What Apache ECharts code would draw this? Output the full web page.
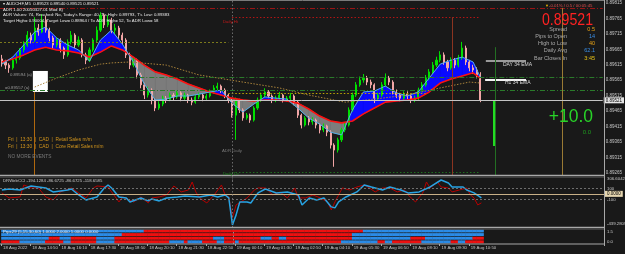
<!DOCTYPE html>
<html><head><meta charset="utf-8">
<script src="https://cdn.jsdelivr.net/npm/echarts@6/dist/echarts.min.js"></script>
<style>html,body{margin:0;padding:0;background:#191919;}#c{width:625px;height:254px;}</style>
</head><body><div id="c"></div>
<script>
const N = 165;
const timeLabels = ['18 Aug 2022','18 Aug 14:50','18 Aug 16:10','18 Aug 17:30','18 Aug 18:50','18 Aug 20:10','18 Aug 21:30','18 Aug 22:50','19 Aug 00:10','19 Aug 01:30','19 Aug 02:50','19 Aug 04:10','19 Aug 05:30','19 Aug 06:50','19 Aug 08:10','19 Aug 09:30','19 Aug 10:50'];
const priceTicks = [0.89265,0.89315,0.89365,0.89415,0.89465,0.89515,0.89565,0.89615,0.89665,0.89715,0.89765,0.89815];
const opens = [0.89655,0.89645,0.89635,0.89626,0.89651,0.89658,0.89684,0.89700,0.89732,0.89716,
0.89755,0.89742,0.89781,0.89748,0.89723,0.89700,0.89716,0.89690,0.89668,0.89710,
0.89732,0.89700,0.89716,0.89668,0.89651,0.89684,0.89716,0.89748,0.89797,0.89765,
0.89781,0.89748,0.89755,0.89732,0.89716,0.89668,0.89635,0.89651,0.89603,0.89571,
0.89538,0.89554,0.89522,0.89496,0.89509,0.89528,0.89522,0.89538,0.89532,0.89545,
0.89528,0.89538,0.89522,0.89515,0.89532,0.89538,0.89528,0.89535,0.89548,0.89561,
0.89567,0.89554,0.89538,0.89522,0.89473,0.89522,0.89490,0.89464,0.89473,0.89457,
0.89496,0.89522,0.89538,0.89548,0.89535,0.89522,0.89528,0.89538,0.89522,0.89528,
0.89535,0.89515,0.89473,0.89441,0.89464,0.89451,0.89457,0.89441,0.89425,0.89438,
0.89418,0.89376,0.89360,0.89393,0.89425,0.89441,0.89490,0.89538,0.89571,0.89587,
0.89593,0.89580,0.89571,0.89528,0.89538,0.89571,0.89593,0.89580,0.89548,0.89538,
0.89528,0.89541,0.89535,0.89522,0.89528,0.89554,0.89571,0.89593,0.89613,0.89635,
0.89651,0.89668,0.89645,0.89626,0.89651,0.89635,0.89658,0.89690,0.89645,0.89626,
0.89619,0.89603];
const closes = [0.89645,0.89635,0.89626,0.89651,0.89658,0.89684,0.89700,0.89732,0.89716,0.89755,
0.89742,0.89781,0.89748,0.89723,0.89700,0.89716,0.89690,0.89668,0.89710,0.89732,
0.89700,0.89716,0.89668,0.89651,0.89684,0.89716,0.89748,0.89797,0.89765,0.89781,
0.89748,0.89755,0.89732,0.89716,0.89668,0.89635,0.89651,0.89603,0.89571,0.89538,
0.89554,0.89522,0.89496,0.89509,0.89528,0.89522,0.89538,0.89532,0.89545,0.89528,
0.89538,0.89522,0.89515,0.89532,0.89538,0.89528,0.89535,0.89548,0.89561,0.89567,
0.89554,0.89538,0.89522,0.89473,0.89522,0.89490,0.89464,0.89473,0.89457,0.89496,
0.89522,0.89538,0.89548,0.89535,0.89522,0.89528,0.89538,0.89522,0.89528,0.89535,
0.89515,0.89473,0.89441,0.89464,0.89451,0.89457,0.89441,0.89425,0.89438,0.89418,
0.89376,0.89360,0.89393,0.89425,0.89441,0.89490,0.89538,0.89571,0.89587,0.89593,
0.89580,0.89571,0.89528,0.89538,0.89571,0.89593,0.89580,0.89548,0.89538,0.89528,
0.89541,0.89535,0.89522,0.89528,0.89554,0.89571,0.89593,0.89613,0.89635,0.89651,
0.89668,0.89645,0.89626,0.89651,0.89635,0.89658,0.89690,0.89645,0.89626,0.89619,
0.89603,0.89521];
const lows = [0.89630,0.89622,0.89610,0.89620,0.89640,0.89652,0.89676,0.89694,0.89705,0.89710,
0.89730,0.89738,0.89740,0.89712,0.89688,0.89692,0.89676,0.89655,0.89662,0.89702,
0.89690,0.89694,0.89660,0.89638,0.89645,0.89678,0.89710,0.89742,0.89755,0.89758,
0.89738,0.89736,0.89720,0.89702,0.89658,0.89622,0.89628,0.89592,0.89560,0.89525,
0.89530,0.89508,0.89486,0.89490,0.89502,0.89512,0.89518,0.89522,0.89526,0.89518,
0.89520,0.89512,0.89505,0.89510,0.89525,0.89518,0.89522,0.89530,0.89542,0.89554,
0.89545,0.89528,0.89512,0.89465,0.89393,0.89480,0.89455,0.89458,0.89448,0.89452,
0.89490,0.89516,0.89530,0.89528,0.89512,0.89515,0.89522,0.89514,0.89516,0.89520,
0.89505,0.89464,0.89430,0.89436,0.89440,0.89442,0.89430,0.89414,0.89418,0.89405,
0.89365,0.89306,0.89352,0.89386,0.89418,0.89436,0.89484,0.89532,0.89565,0.89578,
0.89570,0.89560,0.89512,0.89520,0.89532,0.89565,0.89570,0.89540,0.89528,0.89518,
0.89522,0.89525,0.89512,0.89515,0.89522,0.89548,0.89565,0.89586,0.89606,0.89628,
0.89644,0.89636,0.89615,0.89620,0.89625,0.89628,0.89652,0.89635,0.89615,0.89606,
0.89592,0.89515];
const highs = [0.89668,0.89652,0.89641,0.89660,0.89672,0.89690,0.89712,0.89745,0.89740,0.89790,
0.89768,0.89800,0.89795,0.89756,0.89730,0.89725,0.89722,0.89695,0.89718,0.89745,
0.89738,0.89728,0.89722,0.89675,0.89692,0.89722,0.89760,0.89806,0.89802,0.89797,
0.89788,0.89768,0.89762,0.89740,0.89722,0.89675,0.89660,0.89656,0.89610,0.89578,
0.89565,0.89560,0.89528,0.89518,0.89536,0.89535,0.89546,0.89545,0.89552,0.89550,
0.89546,0.89542,0.89530,0.89540,0.89546,0.89544,0.89542,0.89556,0.89570,0.89578,
0.89572,0.89560,0.89542,0.89528,0.89530,0.89526,0.89495,0.89480,0.89478,0.89502,
0.89530,0.89546,0.89560,0.89554,0.89540,0.89536,0.89548,0.89542,0.89535,0.89545,
0.89540,0.89520,0.89478,0.89470,0.89470,0.89466,0.89462,0.89446,0.89446,0.89442,
0.89424,0.89382,0.89400,0.89432,0.89450,0.89498,0.89546,0.89580,0.89598,0.89606,
0.89600,0.89588,0.89576,0.89546,0.89580,0.89608,0.89600,0.89586,0.89556,0.89545,
0.89550,0.89550,0.89542,0.89536,0.89562,0.89580,0.89603,0.89622,0.89645,0.89662,
0.89680,0.89676,0.89652,0.89660,0.89658,0.89668,0.89710,0.89698,0.89652,0.89636,
0.89628,0.89612];
const emaBars = [0,3,6,9,12,15,18,21,24,27,30,33,36,39,42,45,48,51,54,57,60,63,66,69,72,75,78,81,84,87,90,93,96,99,102,105,108,111,114,117,120,123,126,129,131];
const emaSlow = [0.89645,0.89655,0.89668,0.89684,0.89693,0.89684,0.89681,0.89674,0.89661,0.89677,0.89697,0.89684,0.89661,0.89635,0.89613,0.89603,0.89590,0.89574,0.89561,0.89548,0.89538,0.89528,0.89522,0.89519,0.89522,0.89522,0.89519,0.89512,0.89493,0.89470,0.89454,0.89448,0.89454,0.89477,0.89496,0.89515,0.89519,0.89522,0.89528,0.89548,0.89577,0.89590,0.89600,0.89610,0.89593];
const emaFast = [0.89638,0.89661,0.89700,0.89742,0.89758,0.89723,0.89700,0.89684,0.89648,0.89716,0.89748,0.89703,0.89645,0.89574,0.89522,0.89525,0.89535,0.89535,0.89541,0.89548,0.89554,0.89512,0.89483,0.89509,0.89532,0.89528,0.89525,0.89496,0.89464,0.89444,0.89418,0.89409,0.89490,0.89548,0.89551,0.89567,0.89545,0.89535,0.89548,0.89593,0.89638,0.89651,0.89661,0.89645,0.89596];
const maBars = [9,15,21,27,30,35,45,54,66,76,84,94,102,111,120,128,131];
const maLong = [0.89564,0.89593,0.89619,0.89638,0.89642,0.89645,0.89635,0.89603,0.89580,0.89561,0.89538,0.89515,0.89525,0.89538,0.89561,0.89580,0.89577];
const cciFast = [[0,71],[2,89],[5,71],[8,143],[10,125],[12,107],[14,35],[16,53],[18,71],[19,89],[21,-20],[23,-110],[26,-56],[28,107],[29,162],[30,107],[32,-56],[34,-74],[35,-147],[38,-74],[40,-128],[41,-92],[43,-128],[45,-74],[48,-56],[50,-38],[54,-56],[57,-20],[59,-56],[61,-20],[62,-74],[63,-564],[64,-382],[65,-147],[67,-147],[68,-165],[70,17],[72,89],[75,17],[78,35],[81,-20],[82,-201],[84,-74],[86,-110],[88,-74],[90,-237],[91,-255],[92,-147],[94,-56],[97,35],[99,162],[101,125],[104,71],[106,125],[109,71],[111,17],[114,35],[117,125],[120,252],[122,198],[123,125],[126,125],[127,71],[129,17],[131,-74]];
const cciSlow = [[0,17],[2,-74],[5,-56],[6,162],[8,107],[10,107],[12,-56],[14,-110],[16,35],[19,107],[21,17],[23,-74],[25,107],[26,143],[29,125],[30,35],[32,-147],[33,-56],[36,-147],[38,-56],[40,-165],[41,-74],[43,-56],[45,-20],[47,143],[49,35],[51,71],[52,216],[53,35],[54,-74],[56,-165],[58,-20],[60,162],[61,-20],[62,-56],[63,-437],[64,-201],[67,-74],[69,71],[70,107],[72,107],[74,-20],[76,35],[78,-74],[80,107],[81,-74],[83,-74],[85,-20],[87,-74],[89,-147],[90,-292],[91,-147],[93,107],[95,71],[97,125],[99,162],[100,125],[102,35],[104,107],[106,107],[108,35],[110,71],[111,-20],[113,-147],[115,17],[116,216],[117,107],[119,216],[120,125],[122,107],[123,35],[125,71],[127,107],[128,-20],[129,-74],[130,-201],[131,-165]];
const row1Runs = [[0,38,1],[39,98,0],[99,131,1]];
const row2Runs = [[0,32,1],[33,95,0],[96,131,1]];
const row3Runs = [[0,12,1],[13,15,0],[16,18,1],[19,25,0],[26,30,1],[31,57,0],[58,60,1],[61,70,0],[71,73,1],[74,75,0],[76,77,1],[78,95,0],[96,111,1],[112,115,0],[116,128,1],[129,131,0]];
const row4Runs = [[0,4,0],[5,11,1],[12,16,0],[17,18,1],[19,25,0],[26,30,1],[31,45,0],[46,49,1],[50,50,0],[51,54,1],[55,58,0],[59,60,1],[61,63,0],[64,64,1],[65,92,0],[93,102,1],[103,104,0],[105,106,1],[107,114,0],[115,122,1],[123,124,0],[125,126,1],[127,131,0]];
const bid = 0.89521;
const levelPrices = [0.89820, 0.89790, 0.89710, 0.89596, 0.89554, 0.89545, 0.89289];
const htfEma = [0.89648, 0.89588];
const cciLevels = [100, -100, 0];

const FONT = 'Liberation Sans';
const cats = Array.from({length: N}, (_, i) => String(i));
const labelAt = i => (i % 8 === 0 && i / 8 < timeLabels.length) ? timeLabels[i / 8] : '';
const ohlc = opens.map((o, i) => [o, closes[i], lows[i], highs[i]]);
const fillSegs = emaBars.slice(0, -1).map((k, i) => [k, emaBars[i + 1], emaFast[i], emaFast[i + 1], emaSlow[i], emaSlow[i + 1]]);
const cells = [];
[row1Runs, row2Runs, row3Runs, row4Runs].forEach((runs, r) => runs.forEach(([a, b, s]) => { for (let k = a; k <= b; k++) cells.push([k, r, s]); }));

const yTop = 0.898456, yBot = 0.892599, panelBottom = 0.89279;
const X0 = -0.5, X1 = N - 0.5;
const UP = '#0a0aff', DOWN = '#7c7c7c';
function hl(price, a, b, color, type, width) {
  return [{coord: [a, price], lineStyle: {color, type, width: width || 1}}, {coord: [b, price]}];
}
function vl(x, p1, p2, color, type, width) {
  return [{coord: [x, p1], lineStyle: {color, type, width: width || 1}}, {coord: [x, p2]}];
}
const dashDot = [5, 2, 1, 2];
const daySep = {xAxis: 63, lineStyle: {color: '#6a6a6a', type: [1.5, 2], width: 1}};
const mainMarks = [
  hl(levelPrices[0], X0, X1, '#9a1414', dashDot),
  hl(levelPrices[1], 63, 131, '#b41414', [1.5, 2]),
  hl(levelPrices[2], X0, 62, '#7c7a1c', [2, 2]),
  hl(levelPrices[3], 13, X1, '#2a7a2a', dashDot),
  hl(levelPrices[4], X0, X1, '#2a7a2a', dashDot),
  hl(levelPrices[5], 62, 116, '#c0a800', [1.5, 2]),
  hl(levelPrices[6], 63, 131, '#1f6f1f', [1.5, 2]),
  hl(htfEma[0], 132.5, 143.5, '#9a9a9a', 'solid', 2),
  hl(htfEma[1], 132.3, 143.5, '#f2f2f2', 'solid', 2),
  daySep,
  vl(8.8, 0.89548, panelBottom, '#b0680e', 'solid'),
  vl(123.25, levelPrices[1], panelBottom, '#8b3420', 'solid'),
  vl(135.0, 0.89693, panelBottom, '#236f23', 'solid'),
  vl(153.3, levelPrices[0], panelBottom, '#9a7a34', 'solid'),
  vl(134.7, bid, 0.89373, '#22dd22', 'solid', 2),
  [{coord: [X0, bid], lineStyle: {color: '#c4c4c4', type: 'solid', width: 1},
    label: {show: true, position: 'end', distance: 1, formatter: bid.toFixed(5), backgroundColor: '#e6e6e6', color: '#000', fontSize: 4.5, fontFamily: FONT, padding: [1, 2, 0, 2]}},
   {coord: [X1, bid]}]
];
const cciMarks = [
  hl(cciLevels[0], X0, X1, '#6e6e6e', [2, 2]),
  hl(cciLevels[1], X0, X1, '#6e6e6e', [2, 2]),
  [{coord: [X0, cciLevels[2]], lineStyle: {color: '#c8b088', type: 'solid', width: 1},
    label: {show: true, position: 'end', distance: 1, formatter: '0.0000', backgroundColor: '#e6d6b0', color: '#000', fontSize: 4.5, fontFamily: FONT, padding: [1, 2, 0, 2]}},
   {coord: [X1, cciLevels[2]]}],
  daySep
];

function txt(x, y, s, fill, size, align, extra) {
  return Object.assign({type: 'text', x, y, z: 100, silent: true,
    style: {text: s, fill, fontSize: size, fontFamily: FONT, align: align || 'left', verticalAlign: 'middle'}}, extra || {});
}
function ln(x1, y1, x2, y2, stroke, w) {
  return {type: 'line', z: 99, silent: true, shape: {x1, y1, x2, y2}, style: {stroke, lineWidth: w || 1}};
}
const graphics = [
  ln(0, 0.5, 605, 0.5, '#7a7a7a'),
  ln(0, 175.5, 605, 175.5, '#a8a8a8', 1.5),
  ln(0, 177.2, 605, 177.2, '#505050'),
  ln(0, 227.5, 605, 227.5, '#a8a8a8', 1.5),
  ln(0, 229.2, 605, 229.2, '#505050'),
  ln(0, 244, 605, 244, '#a8a8a8'),
  ln(604.5, 0, 604.5, 244, '#a8a8a8'),
  txt(3, 4, '\u25BE AUDCHF,M5  0.89523 0.89540 0.89521 0.89521', '#e8e8e8', 4.3),
  txt(3, 9.7, 'ADR 1.00 20050327.01 Mod B)', '#e8e8e8', 4.3),
  txt(3, 15.2, "ADR Values: 74, Reached: No, Today's Range: 40, T's High: 0.89793, T's Low: 0.89383", '#e8e8e8', 4.3),
  txt(3, 20.7, 'Target High= 0.90004, Target Low= 0.88964 / To ADR High= 52, To ADR Low= 58', '#e8e8e8', 4.3),
  txt(545, 6, '\u25BC', '#e8b000', 4),
  txt(549, 6, '-0.01% / 0.5 / 00:05:45', '#e05050', 4.3),
  txt(593, 20, '0.89521', '#ff2222', 17, 'right', {scaleX: 0.83}),
  txt(567, 29, 'Spread', '#a8a8a8', 5.5, 'right'),
  txt(567, 36.3, 'Pips to Open', '#a8a8a8', 5.5, 'right'),
  txt(567, 43.5, 'High to Low', '#a8a8a8', 5.5, 'right'),
  txt(567, 50.8, 'Daily Avg', '#a8a8a8', 5.5, 'right'),
  txt(567, 58, 'Bar Closes In', '#a8a8a8', 5.5, 'right'),
  txt(595, 29, '0.5', '#e8a317', 5.5, 'right'),
  txt(595, 36.3, '14', '#3a8ee6', 5.5, 'right'),
  txt(595, 43.5, '40', '#e8a317', 5.5, 'right'),
  txt(595, 50.8, '62.1', '#3a8ee6', 5.5, 'right'),
  txt(595, 58, '3:45', '#e8c317', 5.5, 'right'),
  txt(503, 64.5, 'DAY 34 EMA', '#d8d8d8', 5),
  txt(505, 83, 'H1 34 EMA', '#d8d8d8', 5),
  txt(593, 117.5, '+10.0', '#28d428', 17.5, 'right'),
  txt(591, 132, '0.0', '#1f9a1f', 6, 'right'),
  txt(223, 21.5, 'Daily Hi', '#c81818', 4.3),
  txt(223, 174.3, 'Daily Lo', '#1f8a1f', 4.3),
  txt(222, 151, 'ADR Daily', '#7a7a7a', 4.3),
  txt(10, 74.5, '0.89594 (a)', '#9a9a9a', 4.3),
  txt(5, 88, '=0.89557 (a)', '#9a9a9a', 4.3),
  txt(8, 140, 'Fri  |  13:30  |  CAD  |  Retail Sales m/m', '#d4961c', 4.8),
  txt(8, 147, 'Fri  |  13:30  |  CAD  |  Core Retail Sales m/m', '#d4961c', 4.8),
  txt(8, 157, 'NO MORE EVENTS', '#7a7a7a', 4.8),
  txt(3, 181.3, 'DRWebCCI -194.1284 -86.6725 -86.6725 -118.6585', '#c8c8c8', 4.3),
  txt(607, 179.3, '306.6042', '#c8c8c8', 4.3),
  txt(607, 224.3, '-439.2809', '#c8c8c8', 4.3),
  txt(3, 232, 'Prpc29 (5,15,30,60) 1.0000 2.0000 1.0000 0.0000', '#f0f0f0', 4.3),
  txt(607, 232, '1.5', '#c8c8c8', 4.3),
  txt(607, 242, '0.0', '#c8c8c8', 4.3)
];

function fillRender(params, api) {
  const k0 = api.value(0), k1 = api.value(1), f0 = api.value(2), f1 = api.value(3), s0 = api.value(4), s1 = api.value(5);
  const d0 = f0 - s0, d1 = f1 - s1;
  const P = (x, y) => api.coord([x, y]);
  const poly = (pts, up) => ({type: 'polygon', shape: {points: pts}, style: {fill: up ? UP : DOWN, stroke: up ? UP : DOWN, lineWidth: 0.6}});
  if (d0 * d1 >= 0) {
    return poly([P(k0, f0), P(k1, f1), P(k1, s1), P(k0, s0)], (d0 + d1) >= 0);
  }
  const t = d0 / (d0 - d1);
  const km = k0 + t * (k1 - k0), ym = f0 + t * (f1 - f0);
  return {type: 'group', children: [
    poly([P(k0, f0), P(km, ym), P(k0, s0)], d0 > 0),
    poly([P(km, ym), P(k1, f1), P(k1, s1)], d1 > 0)
  ]};
}

const hidden = {show: false};
const option = {
  animation: false,
  backgroundColor: '#191919',
  grid: [
    {left: 0, top: 0, width: 604, height: 181},
    {left: 0, top: 177, width: 604, height: 50.5},
    {left: 0, top: 229.5, width: 604, height: 14.5}
  ],
  xAxis: [
    {type: 'category', gridIndex: 0, data: cats, show: false},
    {type: 'value', gridIndex: 0, min: X0, max: X1, show: false},
    {type: 'value', gridIndex: 1, min: X0, max: X1, show: false},
    {type: 'category', gridIndex: 2, data: cats, position: 'bottom',
      axisLine: {show: false},
      axisTick: {show: true, length: 2, interval: (i) => labelAt(i) !== '', lineStyle: {color: '#a8a8a8'}},
      axisLabel: {interval: (i) => labelAt(i) !== '', formatter: (v, i) => labelAt(i), align: 'left', fontSize: 4.3, color: '#c8c8c8', fontFamily: FONT, margin: 2},
      splitLine: hidden},
    {type: 'value', gridIndex: 2, min: X0, max: X1, show: false}
  ],
  yAxis: [
    {type: 'value', gridIndex: 0, position: 'right', min: yBot, max: yTop, splitLine: hidden,
      axisLine: hidden, axisTick: hidden,
      axisLabel: {customValues: priceTicks, formatter: v => v.toFixed(5), fontSize: 4.5, color: '#c8c8c8', fontFamily: FONT, margin: 3, verticalAlign: 'bottom', padding: [0, 0, 4, 0]}},
    {type: 'value', gridIndex: 1, position: 'right', min: -611.5, max: 306.6042, splitLine: hidden,
      axisLine: hidden, axisTick: hidden,
      axisLabel: {customValues: [100, -100], formatter: v => String(v), fontSize: 4.3, color: '#c8c8c8', fontFamily: FONT, margin: 3}},
    {type: 'value', gridIndex: 2, min: 0, max: 4, show: false}
  ],
  graphic: graphics,
  series: [
    {type: 'custom', xAxisIndex: 1, yAxisIndex: 0, data: fillSegs, silent: true, z: 1,
      encode: {x: [0, 1], y: [2, 3, 4, 5]}, renderItem: fillRender},
    {type: 'candlestick', xAxisIndex: 0, yAxisIndex: 0, data: ohlc, barWidth: 1.6, z: 3,
      itemStyle: {color: '#00e000', color0: '#f2a6a6', borderColor: '#00e000', borderColor0: '#f2a6a6', borderWidth: 1}},
    {type: 'line', xAxisIndex: 1, yAxisIndex: 0, data: emaBars.map((k, i) => [k, emaSlow[i]]), symbol: 'none', lineStyle: {color: '#ff1010', width: 1.6}, z: 4},
    {type: 'line', xAxisIndex: 1, yAxisIndex: 0, data: emaBars.map((k, i) => [k, emaFast[i]]), symbol: 'none', lineStyle: {color: '#56aee6', width: 1}, z: 4},
    {type: 'line', xAxisIndex: 1, yAxisIndex: 0, data: maBars.map((k, i) => [k, maLong[i]]), symbol: 'none', lineStyle: {color: '#a8823a', width: 1, type: [1.5, 1.5]}, z: 4,
      markLine: {symbol: ['none', 'none'], silent: true, animation: false, label: {show: false}, data: mainMarks},
      markArea: {silent: true, data: [[{coord: [8.5, 0.89616], itemStyle: {color: '#ffffff'}}, {coord: [12.6, 0.89548]}]]}},
    {type: 'line', xAxisIndex: 2, yAxisIndex: 1, data: cciSlow, symbol: 'none', lineStyle: {color: '#b80000', width: 1}, z: 3,
      markLine: {symbol: ['none', 'none'], silent: true, animation: false, label: {show: false}, data: cciMarks}},
    {type: 'line', xAxisIndex: 2, yAxisIndex: 1, data: cciFast, symbol: 'none', lineStyle: {color: '#27a3e3', width: 1.5}, z: 4},
    {type: 'custom', xAxisIndex: 3, yAxisIndex: 2, data: cells, encode: {x: 0, y: 1}, silent: true,
      renderItem: (params, api) => {
        const k = api.value(0), r = api.value(1), s = api.value(2);
        const a = api.coord([k, 4 - r]), b = api.coord([k, 3 - r]);
        const w = api.size([1, 0])[0];
        return {type: 'rect', shape: {x: a[0] - w / 2, y: a[1], width: w + 0.4, height: b[1] - a[1] - 0.7}, style: {fill: s ? '#2b8be6' : '#ee1010'}};
      }},
    {type: 'line', xAxisIndex: 4, yAxisIndex: 2, data: [[-10, -10]], symbol: 'none', z: 5,
      markLine: {symbol: ['none', 'none'], silent: true, animation: false, label: {show: false},
        data: [{xAxis: 63, lineStyle: {color: '#8a8a8a', type: [1.5, 2], width: 1}}]}}
  ]
};
const chart = echarts.init(document.getElementById('c'), null, {renderer: 'canvas'});
chart.setOption(option);
</script>
</body></html>
